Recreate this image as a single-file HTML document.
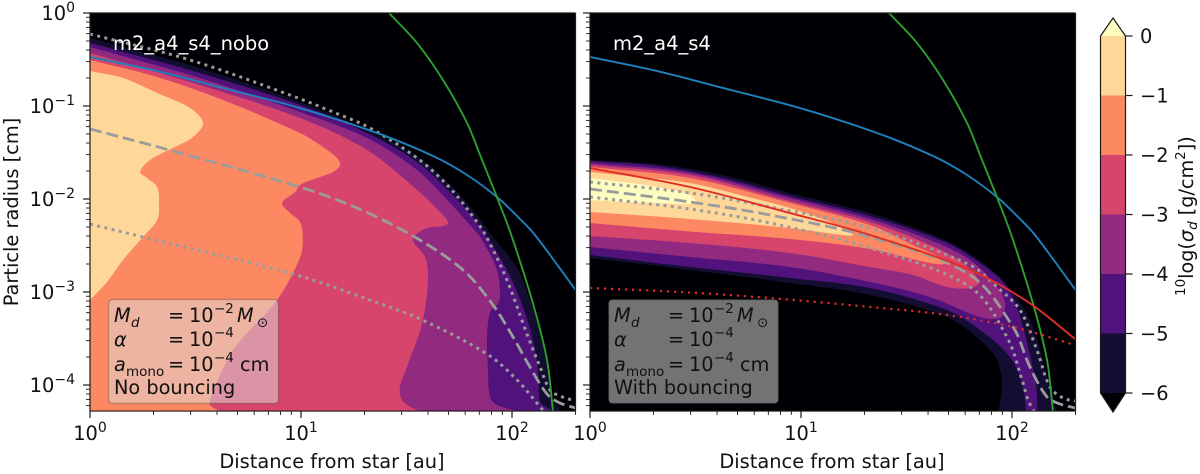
<!DOCTYPE html>
<html lang="en">
<head>
<meta charset="utf-8">
<title>Dust size distribution panels</title>
<style>
html,body{margin:0;padding:0;background:#fff;width:1200px;height:474px;overflow:hidden}
svg{display:block}
text{font-family:"DejaVu Sans","Liberation Sans",sans-serif;fill:#111}
.lg{font-size:19.3px}
.sb{font-size:13.5px}
.it{font-style:italic}
.ti{font-size:19.5px;fill:#fff}
.tk{font-size:19.4px}
.al{font-size:19.4px}
</style>
</head>
<body>
<svg id="chart" xmlns="http://www.w3.org/2000/svg" width="1200" height="474" viewBox="0 0 1200 474">
  <defs>
    <clipPath id="clip-left"><rect x="90" y="13" width="485.5" height="398"/></clipPath>
    <clipPath id="clip-right"><rect x="590" y="13" width="485.5" height="398"/></clipPath>
  </defs>
  <g id="panel-left"></g>
  <g id="panel-right"></g>

  <g>
    <rect x="108.5" y="299.5" width="170" height="104" rx="4" fill="#ddd" fill-opacity="0.52" stroke="#000" stroke-opacity="0.22" stroke-width="1.4"/>
    <text class="lg it" x="114" y="322">M</text><text class="sb it" x="131" y="327">d</text>
    <text class="lg" x="168" y="322">=</text><text class="lg" x="189" y="322">10</text><text class="sb" x="214" y="313">−2</text>
    <text class="lg it" x="237" y="322">M</text><text class="sb" x="257" y="327">⊙</text>
    <text class="lg it" x="114" y="346">α</text>
    <text class="lg" x="168" y="346">=</text><text class="lg" x="189" y="346">10</text><text class="sb" x="214" y="337">−4</text>
    <text class="lg it" x="114" y="371">a</text><text class="sb" x="126" y="376">mono</text>
    <text class="lg" x="168" y="371">=</text><text class="lg" x="189" y="371">10</text><text class="sb" x="214" y="362">−4</text>
    <text class="lg" x="240" y="371">cm</text>
    <text class="lg" x="114" y="394">No bouncing</text>
  </g>
  <g>
    <rect x="608.5" y="299.5" width="170" height="104" rx="4" fill="#ddd" fill-opacity="0.52" stroke="#000" stroke-opacity="0.22" stroke-width="1.4"/>
    <text class="lg it" x="614" y="322">M</text><text class="sb it" x="631" y="327">d</text>
    <text class="lg" x="668" y="322">=</text><text class="lg" x="689" y="322">10</text><text class="sb" x="714" y="313">−2</text>
    <text class="lg it" x="737" y="322">M</text><text class="sb" x="757" y="327">⊙</text>
    <text class="lg it" x="614" y="346">α</text>
    <text class="lg" x="668" y="346">=</text><text class="lg" x="689" y="346">10</text><text class="sb" x="714" y="337">−4</text>
    <text class="lg it" x="614" y="371">a</text><text class="sb" x="626" y="376">mono</text>
    <text class="lg" x="668" y="371">=</text><text class="lg" x="689" y="371">10</text><text class="sb" x="714" y="362">−4</text>
    <text class="lg" x="740" y="371">cm</text>
    <text class="lg" x="614" y="394">With bouncing</text>
  </g>

  <text class="ti" x="113" y="50">m2_a4_s4_nobo</text>
  <text class="ti" x="613" y="50">m2_a4_s4</text>

  <text class="al" x="332" y="468" text-anchor="middle">Distance from star [au]</text>
  <text class="al" x="832" y="468" text-anchor="middle">Distance from star [au]</text>
  <text class="al" transform="translate(18,212) rotate(-90)" text-anchor="middle">Particle radius [cm]</text>
  <text class="al" transform="translate(1193,296) rotate(-90)" style="font-size:19.2px"><tspan dy="-8" font-size="13.5">10</tspan><tspan dy="8">log(</tspan><tspan class="it">σ</tspan><tspan class="it" dy="4" font-size="13.5">d</tspan><tspan dy="-4"> [g/cm</tspan><tspan dy="-8" font-size="13.5">2</tspan><tspan dy="8">])</tspan></text>
  <g id="colorbar"></g>
</svg>
<script>
// Axis limits and tick values (log10 of au and cm)
const xMinLog = 0;
const xMaxLog = 2.301;
const yMinLog = -4.28;
const yMaxLog = 0;
const xTickExponents = [0, 1, 2];
const yTickExponents = [-4, -3, -2, -1, 0];
const minorMultipliers = [2, 3, 4, 5, 6, 7, 8, 9];

// Colorbar levels
const levelTicks = [0, -1, -2, -3, -4, -5, -6];

// Lines shared by both panels
const blueLogR = [0, 0.318, 0.630, 0.995, 1.360, 1.626, 1.787, 1.934, 2.038, 2.109, 2.301];
const blueLogA = [-0.473, -0.624, -0.806, -1.022, -1.290, -1.538, -1.742, -1.989, -2.215, -2.387, -2.978];
const greenLogR = [1.417, 1.550, 1.673, 1.787, 1.858, 1.934, 2.0, 2.1, 2.166, 2.194];
const greenLogA = [0, -0.323, -0.720, -1.183, -1.581, -2.011, -2.409, -3.129, -3.731, -4.28];

// Left panel lines
const leftDotUpLogR = [0, 0.474, 0.948, 1.152, 1.327, 1.550, 1.706, 1.834, 1.882, 1.976, 2.071, 2.133, 2.180, 2.227, 2.299];
const leftDotUpLogA = [-0.226, -0.505, -0.882, -1.065, -1.237, -1.559, -1.882, -2.247, -2.419, -2.871, -3.452, -3.806, -4.054, -4.118, -4.172];
const leftDashLogR = [0, 0.393, 0.995, 1.265, 1.531, 1.768, 1.910, 2.005, 2.085, 2.166, 2.227, 2.301];
const leftDashLogA = [-1.247, -1.484, -1.871, -2.097, -2.398, -2.763, -3.140, -3.484, -3.806, -4.097, -4.194, -4.247];
const leftDotLowLogR = [0, 0.251, 0.962, 1.313, 1.564, 1.882, 2.024, 2.142, 2.170];
const leftDotLowLogA = [-2.269, -2.409, -2.806, -3.075, -3.290, -3.667, -3.946, -4.258, -4.323];

// Left panel filled contours
const leftM6LogR = [0, 0.521, 0.995, 1.313, 1.550, 1.706, 1.834, 1.910, 2.024, 2.085, 2.133, 2.171, 2.194, 2.237];
const leftM6LogA = [-0.269, -0.591, -0.957, -1.258, -1.538, -1.839, -2.172, -2.409, -2.742, -3.086, -3.452, -3.839, -4.161, -4.280];
const leftM5LogR = [0, 0.521, 0.995, 1.313, 1.550, 1.706, 1.834, 1.882, 1.976, 2.047, 2.095, 2.123, 2.128, 2.137, 2.190];
const leftM5LogA = [-0.323, -0.645, -0.989, -1.290, -1.602, -1.925, -2.247, -2.409, -2.763, -3.129, -3.484, -3.839, -4.118, -4.194, -4.280];
const leftM4LogR = [0, 0.521, 0.995, 1.313, 1.550, 1.706, 1.834, 1.858, 1.929, 1.943, 1.929, 1.896, 1.882, 1.886, 1.896, 1.929, 2.024];
const leftM4LogA = [-0.366, -0.699, -1.065, -1.344, -1.688, -2.043, -2.366, -2.441, -2.763, -3.054, -3.140, -3.215, -3.484, -3.839, -4.129, -4.215, -4.280];
const leftM3LogR = [0, 0.521, 0.995, 1.313, 1.550, 1.673, 1.697, 1.673, 1.597, 1.531, 1.536, 1.588, 1.602, 1.573, 1.502, 1.469, 1.479, 1.550, 1.611];
const leftM3LogA = [-0.430, -0.774, -1.129, -1.473, -1.903, -2.172, -2.258, -2.290, -2.312, -2.409, -2.473, -2.624, -2.871, -3.344, -3.806, -4.022, -4.161, -4.269, -4.280];
const leftM2LogR = [0, 0.318, 0.630, 0.995, 1.090, 1.171, 1.185, 1.152, 1.076, 0.995, 0.972, 0.910, 0.948, 0.995, 1.009, 0.995, 0.886, 0.678, 0.578, 0.569, 0.616];
const leftM2LogA = [-0.505, -0.688, -0.935, -1.290, -1.419, -1.559, -1.634, -1.710, -1.774, -1.849, -1.925, -2.043, -2.151, -2.247, -2.441, -2.634, -3.086, -3.624, -4.108, -4.215, -4.280];
const leftM1LogR = [0, 0.156, 0.318, 0.474, 0.536, 0.488, 0.393, 0.284, 0.237, 0.270, 0.318, 0.327, 0.318, 0.251, 0.156, 0.081, 0];
const leftM1LogA = [-0.624, -0.699, -0.860, -1.022, -1.183, -1.333, -1.452, -1.581, -1.710, -1.774, -1.871, -2.043, -2.226, -2.409, -2.656, -2.892, -3.086];

// Right panel lines
const redLogR = [0, 0.474, 0.948, 1.327, 1.801, 2.076, 2.299];
const redLogA = [-1.667, -1.871, -2.151, -2.387, -2.763, -3.108, -3.505];
const redDotLogR = [0, 0.427, 0.853, 1.327, 1.692, 2.005, 2.299];
const redDotLogA = [-2.957, -3.0, -3.065, -3.161, -3.247, -3.376, -3.570];
const rightDashLogR = [0, 0.474, 0.853, 1.327, 1.801, 2.005, 2.085, 2.166, 2.227, 2.299];
const rightDashLogA = [-1.892, -2.032, -2.172, -2.409, -2.817, -3.376, -3.806, -4.129, -4.204, -4.247];
const rightDotUpLogR = [0, 0.474, 0.853, 1.327, 1.801, 1.929, 2.038, 2.118, 2.180, 2.242, 2.299];
const rightDotUpLogA = [-1.817, -1.935, -2.086, -2.312, -2.710, -2.946, -3.194, -3.624, -4.022, -4.140, -4.172];
const rightDotLowLogR = [0, 0.474, 0.853, 1.327, 1.801, 1.976, 2.052, 2.076, 2.114];
const rightDotLowLogA = [-1.978, -2.108, -2.258, -2.527, -2.946, -3.484, -3.978, -4.161, -4.323];

// Right panel filled contours
const rightM6LogR = [0, 0.318, 0.630, 0.948, 1.327, 1.692, 1.881, 2.005, 2.099, 2.166, 2.189, 2.237, 1.952, 1.952, 1.929, 1.848, 1.692, 1.327, 0.948, 0.474, 0];
const rightM6LogA = [-1.581, -1.624, -1.742, -1.935, -2.151, -2.452, -2.720, -3.0, -3.376, -3.914, -4.161, -4.430, -4.430, -3.978, -3.731, -3.516, -3.269, -3.032, -2.903, -2.763, -2.634];
const rightM5LogR = [0, 0.318, 0.630, 0.948, 1.327, 1.692, 1.848, 1.976, 2.052, 2.118, 2.104, 2.076, 2.052, 1.990, 1.848, 1.692, 1.327, 0.948, 0.474, 0];
const rightM5LogA = [-1.591, -1.645, -1.774, -1.968, -2.183, -2.473, -2.688, -2.946, -3.376, -4.086, -4.430, -4.430, -4.022, -3.699, -3.409, -3.194, -2.957, -2.849, -2.731, -2.602];
const rightM4LogR = [0, 0.474, 0.948, 1.327, 1.611, 1.801, 1.943, 1.967, 1.967, 1.943, 1.848, 1.611, 1.327, 0.948, 0.474, 0];
const rightM4LogA = [-1.613, -1.720, -1.989, -2.215, -2.441, -2.656, -2.978, -3.118, -3.172, -3.280, -3.269, -3.054, -2.892, -2.731, -2.624, -2.516];
const rightM3LogR = [0, 0.474, 0.948, 1.327, 1.611, 1.768, 1.844, 1.801, 1.692, 1.531, 1.327, 0.948, 0.474, 0];
const rightM3LogA = [-1.634, -1.742, -2.022, -2.247, -2.495, -2.688, -2.892, -2.957, -2.946, -2.817, -2.731, -2.581, -2.473, -2.398];
const rightM2LogR = [0, 0.474, 0.948, 1.327, 1.531, 1.682, 1.682, 1.611, 1.327, 0.948, 0.474, 0];
const rightM2LogA = [-1.656, -1.774, -2.043, -2.280, -2.495, -2.656, -2.699, -2.688, -2.538, -2.430, -2.349, -2.258];
const rightM1LogR = [0, 0.237, 0.474, 0.711, 0.948, 1.137, 1.242, 1.242, 0.948, 0.474, 0];
const rightM1LogA = [-1.710, -1.763, -1.828, -1.957, -2.097, -2.247, -2.366, -2.398, -2.312, -2.215, -2.140];
const rightM0LogR = [0, 0.156, 0.318, 0.474, 0.507, 0.474, 0.318, 0.156, 0];
const rightM0LogA = [-1.774, -1.817, -1.871, -1.957, -2.043, -2.054, -2.043, -2.032, -2.011];

const SVG_NS = 'http://www.w3.org/2000/svg';
const COL = {bg:'#000004', m6:'#120d31', m5:'#51127c', m4:'#922b7f', m3:'#d8456c', m2:'#fc8961', m1:'#fed799', m0:'#fcfdbf',
  grey:'#9a9c9c', blue:'#1f80bd', green:'#2ca02c', red:'#de2d26', axis:'#1a1a1a'};

function xAxis(panelLeft) { return function (v) { return panelLeft + (v - xMinLog) * 211; }; }
function yAxis(v) { return 13 + (yMaxLog - v) * 93; }
function cbarAxis(v) { return 36 + (0 - v) * 59.5; }

function smoothPath(xs, ys, sx) {
  const px = xs.map(sx), py = ys.map(yAxis);
  const n = px.length;
  const seg = [];
  for (let i = 0; i < n - 1; i++) seg.push(Math.hypot(px[i + 1] - px[i], py[i + 1] - py[i]) || 0.001);
  const tx = [], ty = [];
  for (let i = 0; i < n; i++) {
    const a = Math.max(i - 1, 0), b = Math.min(i + 1, n - 1);
    const len = (i > 0 ? seg[i - 1] : 0) + (i < n - 1 ? seg[i] : 0);
    tx.push((px[b] - px[a]) / len);
    ty.push((py[b] - py[a]) / len);
  }
  let d = 'M' + px[0].toFixed(2) + ' ' + py[0].toFixed(2);
  for (let i = 0; i < n - 1; i++) {
    const h = seg[i] / 3;
    d += 'C' + (px[i] + tx[i] * h).toFixed(2) + ' ' + (py[i] + ty[i] * h).toFixed(2) + ' ' +
      (px[i + 1] - tx[i + 1] * h).toFixed(2) + ' ' + (py[i + 1] - ty[i + 1] * h).toFixed(2) + ' ' +
      px[i + 1].toFixed(2) + ' ' + py[i + 1].toFixed(2);
  }
  return d;
}

function addContour(parent, xs, ys, sx, color, name) {
  const el = document.createElementNS(SVG_NS, 'path');
  
  
  let d = smoothPath(xs, ys, sx);
  if (xs[xs.length - 1] !== 0) d += 'L' + sx(0) + ' ' + yAxis(yMinLog);
  el.setAttribute('d', d + 'Z');
  el.setAttribute('fill', color);
  parent.appendChild(el);
}

function addLine(parent, xs, ys, sx, color, width, dash, name) {
  const el = document.createElementNS(SVG_NS, 'path');
  
  
  el.setAttribute('d', smoothPath(xs, ys, sx));
  el.setAttribute('fill', 'none');
  el.setAttribute('stroke', color);
  el.setAttribute('stroke-width', width);
  if (dash) el.setAttribute('stroke-dasharray', dash);
  parent.appendChild(el);
}

function addSegment(parent, x1, y1, x2, y2, width, name) {
  const el = document.createElementNS(SVG_NS, 'line');
  
  
  el.setAttribute('x1', x1);
  el.setAttribute('y1', y1);
  el.setAttribute('x2', x2);
  el.setAttribute('y2', y2);
  el.setAttribute('stroke', COL.axis);
  el.setAttribute('stroke-width', width);
  parent.appendChild(el);
}

function addPowerLabel(parent, x, y, exponent, anchor, name) {
  const el = document.createElementNS(SVG_NS, 'text');
  
  
  el.setAttribute('class', 'tk');
  el.setAttribute('x', x);
  el.setAttribute('y', y);
  el.setAttribute('text-anchor', anchor);
  const base = document.createElementNS(SVG_NS, 'tspan');
  base.textContent = '10';
  const sup = document.createElementNS(SVG_NS, 'tspan');
  sup.textContent = String(exponent).replace('-', '\u2212');
  sup.setAttribute('dy', '-8');
  sup.setAttribute('font-size', '14');
  el.appendChild(base);
  el.appendChild(sup);
  parent.appendChild(el);
}

function drawFrame(parent, sx, showYLabels, side) {
  const clipless = document.createElementNS(SVG_NS, 'g');
  
  
  parent.appendChild(clipless);
  const left = sx(xMinLog), right = sx(xMaxLog), top = yAxis(yMaxLog), bottom = yAxis(yMinLog);
  xTickExponents.forEach(function (e) {
    addSegment(clipless, sx(e), bottom, sx(e), bottom + 7, 1.2, side + '-x-major-tick');
    addPowerLabel(clipless, sx(e), 440, e, 'middle', side + '-x-tick-label');
    minorMultipliers.forEach(function (m) {
      const v = e + Math.log10(m);
      if (v <= xMaxLog + 0.001) addSegment(clipless, sx(v), bottom, sx(v), bottom + 4, 0.9, side + '-x-minor-tick');
    });
  });
  yTickExponents.forEach(function (e) {
    addSegment(clipless, left, yAxis(e), left - 7, yAxis(e), 1.2, side + '-y-major-tick');
    if (showYLabels) addPowerLabel(clipless, 75, yAxis(e) + 7, e, 'end', side + '-y-tick-label');
  });
  [-5].concat(yTickExponents).forEach(function (e) {
    minorMultipliers.forEach(function (m) {
      const v = e + Math.log10(m);
      if (v <= yMaxLog && v >= yMinLog) addSegment(clipless, left, yAxis(v), left - 4, yAxis(v), 0.9, side + '-y-minor-tick');
    });
  });
  addSegment(clipless, left, top, right, top, 1.2, side + '-top-spine');
  addSegment(clipless, right, top, right, bottom, 1.2, side + '-right-spine');
  addSegment(clipless, left, top - 0.6, left, bottom + 0.6, 1.2, side + '-left-spine');
  addSegment(clipless, left, bottom, right, bottom, 1.2, side + '-bottom-spine');
}

function makeClipGroup(parent, clipId, name) {
  const g = document.createElementNS(SVG_NS, 'g');
  
  
  g.setAttribute('clip-path', 'url(#' + clipId + ')');
  parent.appendChild(g);
  const bg = document.createElementNS(SVG_NS, 'rect');
  
  
  bg.setAttribute('x', 0);
  bg.setAttribute('y', 0);
  bg.setAttribute('width', 1200);
  bg.setAttribute('height', 474);
  bg.setAttribute('fill', COL.bg);
  g.appendChild(bg);
  return g;
}

const DASH = '12 5';
const DOT = '3 4.4';
const RDOT = '2.2 4.8';

// Left panel
(function () {
  const parent = document.getElementById('panel-left');
  const sx = xAxis(90);
  const g = makeClipGroup(parent, 'clip-left', 'left-plot-area');
  addContour(g, leftM6LogR, leftM6LogA, sx, COL.m6, 'left-contour-minus6');
  addContour(g, leftM5LogR, leftM5LogA, sx, COL.m5, 'left-contour-minus5');
  addContour(g, leftM4LogR, leftM4LogA, sx, COL.m4, 'left-contour-minus4');
  addContour(g, leftM3LogR, leftM3LogA, sx, COL.m3, 'left-contour-minus3');
  addContour(g, leftM2LogR, leftM2LogA, sx, COL.m2, 'left-contour-minus2');
  addContour(g, leftM1LogR, leftM1LogA, sx, COL.m1, 'left-contour-minus1');
  addLine(g, leftDotUpLogR, leftDotUpLogA, sx, COL.grey, 3, DOT, 'left-upper-dotted-line');
  addLine(g, leftDashLogR, leftDashLogA, sx, COL.grey, 2.8, DASH, 'left-dashed-line');
  addLine(g, leftDotLowLogR, leftDotLowLogA, sx, COL.grey, 3, DOT, 'left-lower-dotted-line');
  addLine(g, blueLogR, blueLogA, sx, COL.blue, 1.9, null, 'left-blue-line');
  addLine(g, greenLogR, greenLogA, sx, COL.green, 1.9, null, 'left-green-line');
  drawFrame(parent, sx, true, 'left');
})();

// Right panel
(function () {
  const parent = document.getElementById('panel-right');
  const sx = xAxis(590);
  const g = makeClipGroup(parent, 'clip-right', 'right-plot-area');
  addContour(g, rightM6LogR, rightM6LogA, sx, COL.m6, 'right-contour-minus6');
  addContour(g, rightM5LogR, rightM5LogA, sx, COL.m5, 'right-contour-minus5');
  addContour(g, rightM4LogR, rightM4LogA, sx, COL.m4, 'right-contour-minus4');
  addContour(g, rightM3LogR, rightM3LogA, sx, COL.m3, 'right-contour-minus3');
  addContour(g, rightM2LogR, rightM2LogA, sx, COL.m2, 'right-contour-minus2');
  addContour(g, rightM1LogR, rightM1LogA, sx, COL.m1, 'right-contour-minus1');
  addContour(g, rightM0LogR, rightM0LogA, sx, COL.m0, 'right-contour-zero');
  addLine(g, rightDotUpLogR, rightDotUpLogA, sx, COL.grey, 3, DOT, 'right-upper-dotted-line');
  addLine(g, rightDashLogR, rightDashLogA, sx, COL.grey, 2.8, DASH, 'right-dashed-line');
  addLine(g, rightDotLowLogR, rightDotLowLogA, sx, COL.grey, 3, DOT, 'right-lower-dotted-line');
  addLine(g, blueLogR, blueLogA, sx, COL.blue, 1.9, null, 'right-blue-line');
  addLine(g, greenLogR, greenLogA, sx, COL.green, 1.9, null, 'right-green-line');
  addLine(g, redLogR, redLogA, sx, COL.red, 1.9, null, 'right-red-line');
  addLine(g, redDotLogR, redDotLogA, sx, COL.red, 2.2, RDOT, 'right-red-dotted-line');
  drawFrame(parent, sx, false, 'right');
})();

// Colorbar
(function () {
  const parent = document.getElementById('colorbar');
  const barLeft = 1100.5, barRight = 1125.5;
  const bandColors = [COL.m1, COL.m2, COL.m3, COL.m4, COL.m5, COL.m6];
  bandColors.forEach(function (color, i) {
    const el = document.createElementNS(SVG_NS, 'rect');
    
    
    el.setAttribute('x', barLeft);
    el.setAttribute('y', cbarAxis(levelTicks[i]));
    el.setAttribute('width', barRight - barLeft);
    el.setAttribute('height', cbarAxis(levelTicks[i + 1]) - cbarAxis(levelTicks[i]));
    el.setAttribute('fill', color);
    parent.appendChild(el);
  });
  const top = cbarAxis(levelTicks[0]), bottom = cbarAxis(levelTicks[levelTicks.length - 1]);
  const mid = (barLeft + barRight) / 2;
  const upper = document.createElementNS(SVG_NS, 'polygon');
  
  
  upper.setAttribute('points', barLeft + ',' + top + ' ' + mid + ',18 ' + barRight + ',' + top);
  upper.setAttribute('fill', COL.m0);
  parent.appendChild(upper);
  const lower = document.createElementNS(SVG_NS, 'polygon');
  
  
  lower.setAttribute('points', barLeft + ',' + bottom + ' ' + mid + ',412 ' + barRight + ',' + bottom);
  lower.setAttribute('fill', COL.bg);
  parent.appendChild(lower);
  const outline = document.createElementNS(SVG_NS, 'polygon');
  
  
  outline.setAttribute('points', barLeft + ',' + top + ' ' + mid + ',18 ' + barRight + ',' + top + ' ' + barRight + ',' + bottom + ' ' + mid + ',412 ' + barLeft + ',' + bottom);
  outline.setAttribute('fill', 'none');
  outline.setAttribute('stroke', COL.axis);
  outline.setAttribute('stroke-width', 1.2);
  parent.appendChild(outline);
  levelTicks.forEach(function (v) {
    addSegment(parent, barRight, cbarAxis(v), barRight + 7, cbarAxis(v), 1.2, 'colorbar-tick');
    const t = document.createElementNS(SVG_NS, 'text');
    
    
    t.setAttribute('class', 'tk');
    t.setAttribute('x', 1140);
    t.setAttribute('y', cbarAxis(v) + 7);
    t.textContent = String(v).replace('-', '\u2212');
    parent.appendChild(t);
  });
})();
</script>
</body>
</html>
